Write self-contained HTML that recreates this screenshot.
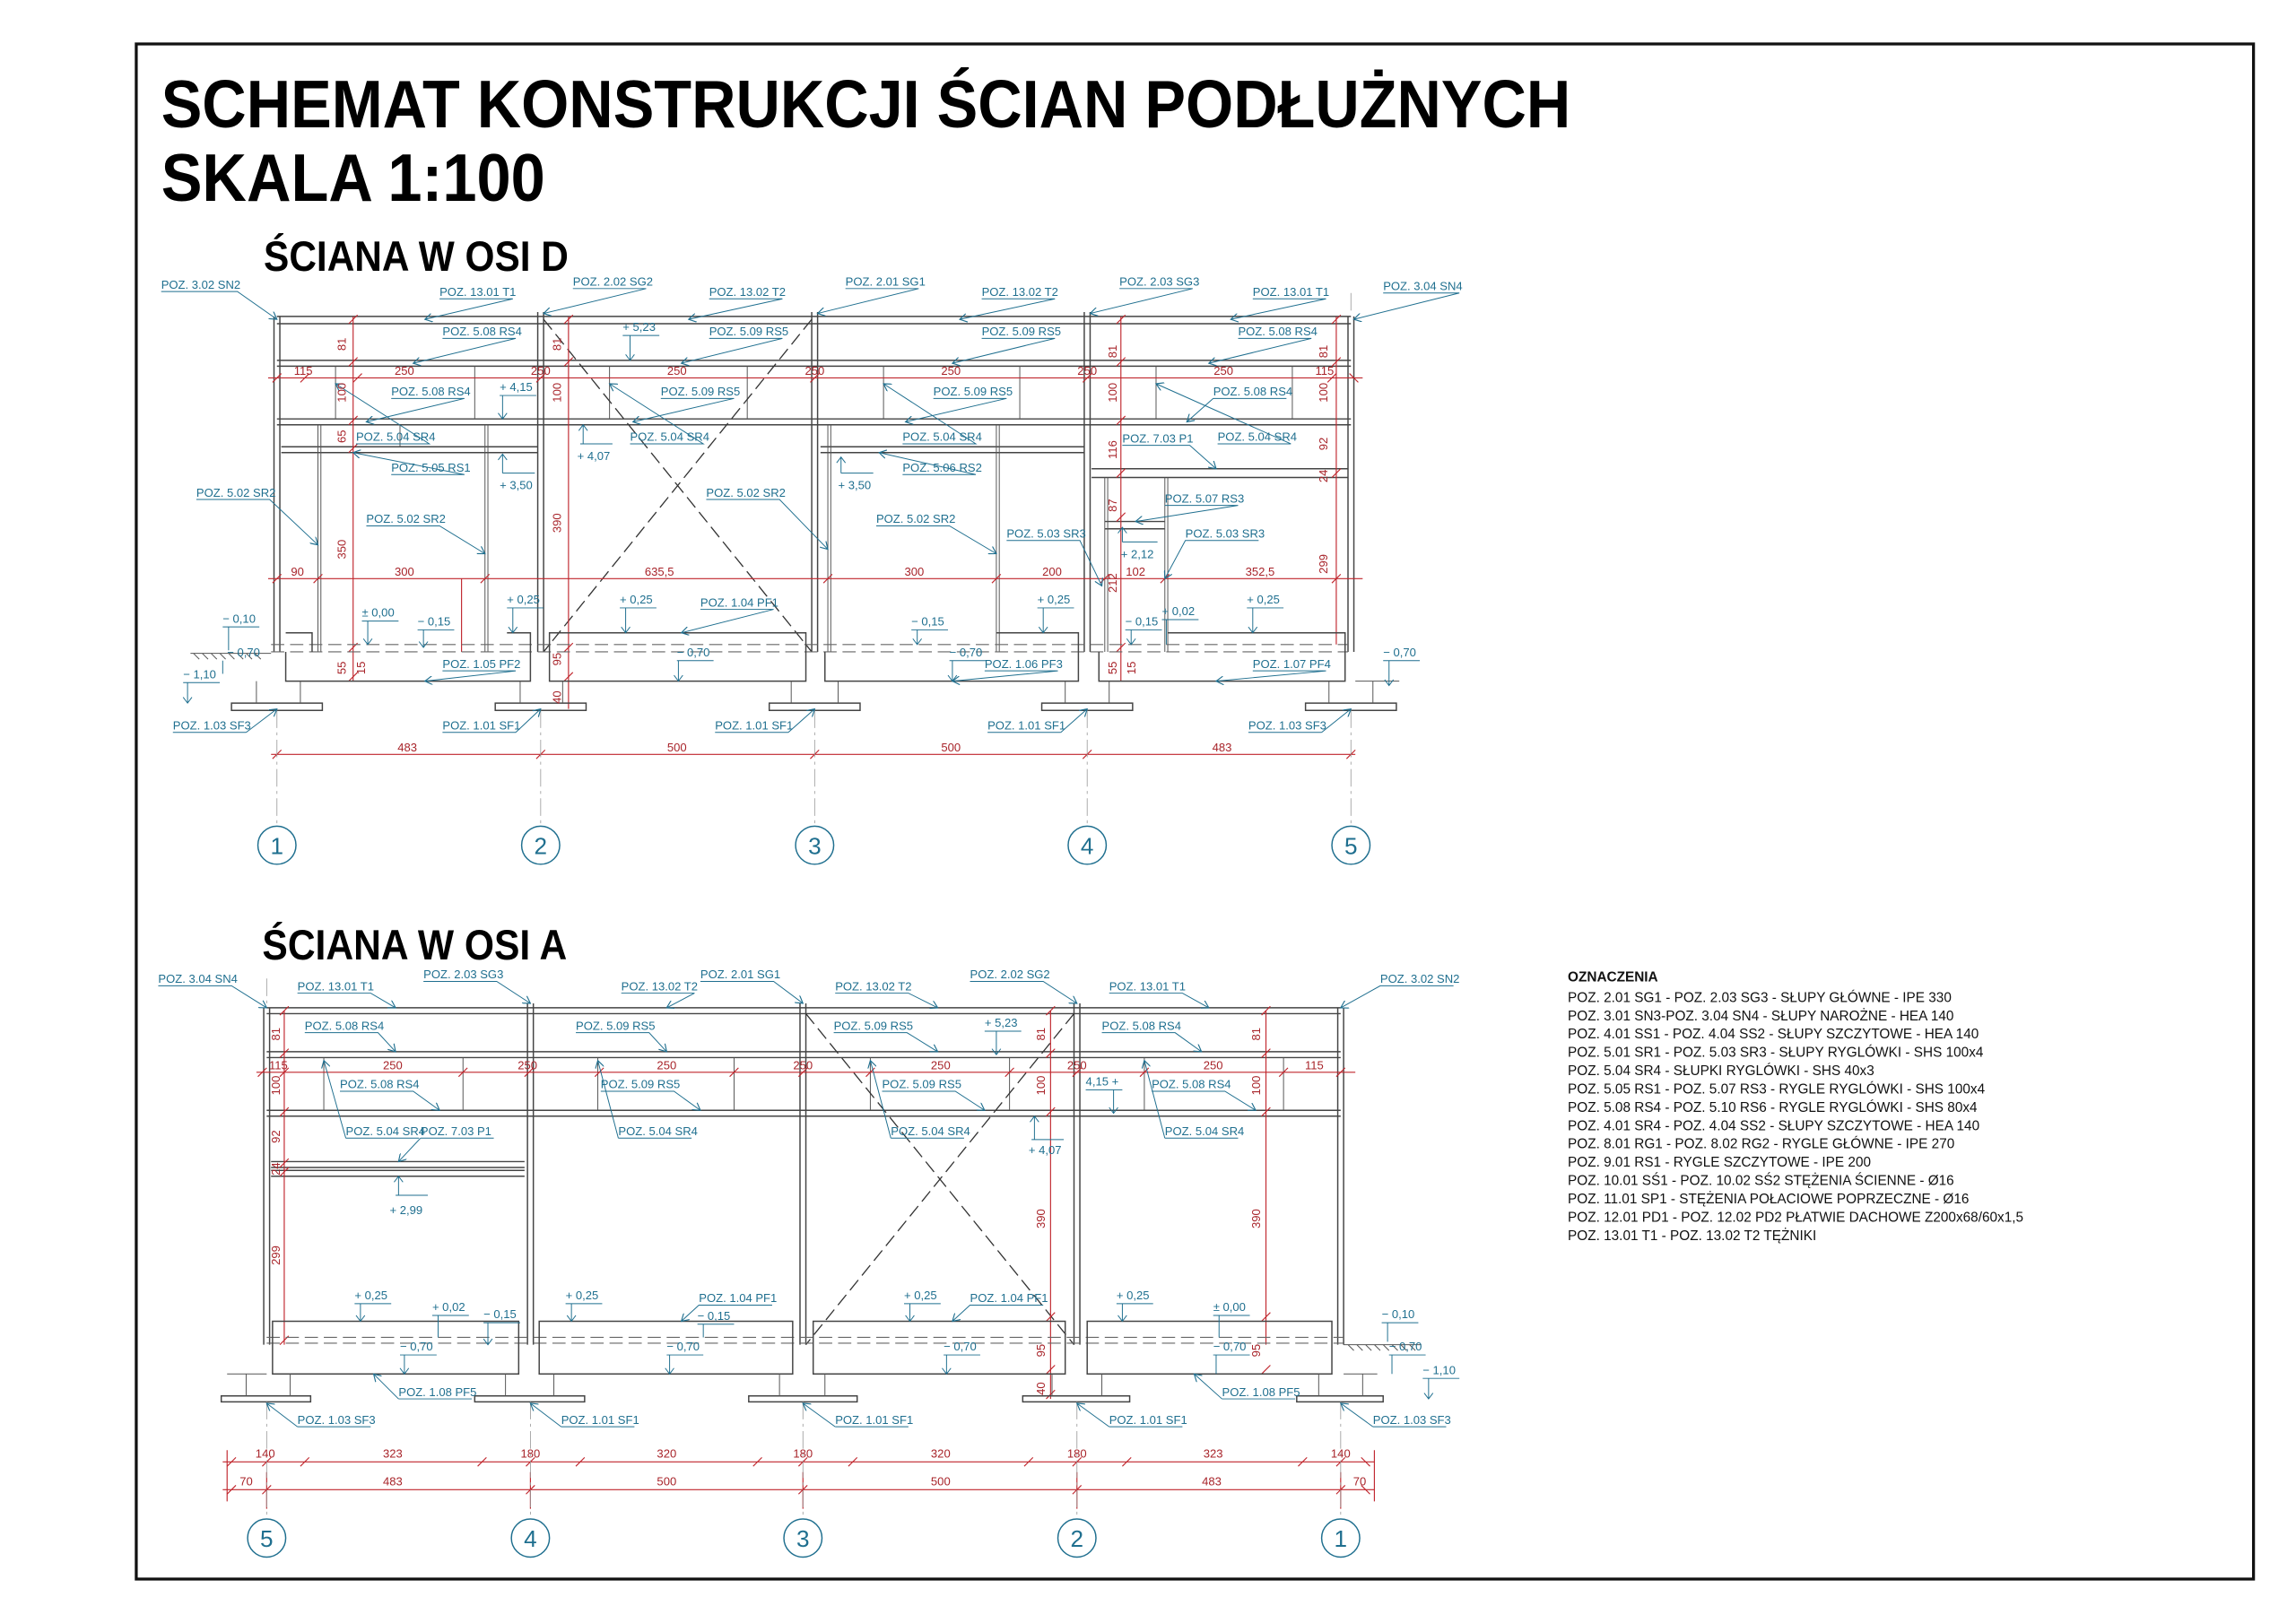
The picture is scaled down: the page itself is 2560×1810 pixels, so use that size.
<!DOCTYPE html>
<html><head><meta charset="utf-8"><style>
html,body{margin:0;padding:0;background:#fff;}
svg{display:block}
.l{font-family:"Liberation Sans",sans-serif;font-size:8px;fill:#1f6f8f}
.d{font-family:"Liberation Sans",sans-serif;font-size:8px;fill:#a8242a}
.s{stroke:#444;stroke-width:0.9;fill:none}
.s2{stroke:#555;stroke-width:0.6;fill:none}
.r{stroke:#c0262d;stroke-width:0.7;fill:none}
.b{stroke:#1f6f8f;stroke-width:0.6;fill:none}
.k{stroke:#333;stroke-width:0.8;fill:none;stroke-dasharray:9 4}
.g{stroke:#999;stroke-width:0.5;fill:none;stroke-dasharray:12 3 2 3}
.leg{font-family:"Liberation Sans",sans-serif;font-size:9.4px;fill:#111}
</style></head><body>
<svg width="2560" height="1810" viewBox="0 0 1567 1108" preserveAspectRatio="none" xmlns="http://www.w3.org/2000/svg">
<defs><marker id="a" markerWidth="6" markerHeight="6" refX="5" refY="3" orient="auto" markerUnits="userSpaceOnUse"><path d="M0,0 L5,3 L0,6" fill="none" stroke="#1f6f8f" stroke-width="0.7"/></marker></defs>
<rect x="93" y="30" width="1445" height="1048" fill="none" stroke="#111" stroke-width="2"/>
<text x="110" y="87" font-family="Liberation Sans" font-weight="bold" font-size="46" textLength="962" lengthAdjust="spacingAndGlyphs">SCHEMAT KONSTRUKCJI ŚCIAN PODŁUŻNYCH</text>
<text x="110" y="137" font-family="Liberation Sans" font-weight="bold" font-size="46" textLength="262" lengthAdjust="spacingAndGlyphs">SKALA 1:100</text>
<text x="180" y="185" font-family="Liberation Sans" font-weight="bold" font-size="29" textLength="208" lengthAdjust="spacingAndGlyphs">ŚCIANA W OSI D</text>
<text x="179" y="655" font-family="Liberation Sans" font-weight="bold" font-size="29" textLength="208" lengthAdjust="spacingAndGlyphs">ŚCIANA W OSI A</text>

<!-- ============ DRAWING D ============ -->
<g>
<path class="s" d="M189 216H922M189 221H922M189 246H922M189 250H922M189 286H922M189 290H922M192 305H367M192 309H367M560 305H740M560 309H740M745 320H920M745 326H920M754 356H795M754 361H795"/>
<path class="s" d="M187 216V445M191 216V445M920 216V445M924 216V445M367 213V445M371 213V445M554 213V445M558 213V445M740 213V445M744 213V445"/>
<path class="s2" d="M217 290V445M219 290V445M331 290V445M333 290V445M565 290V445M567 290V445M680 290V445M682 290V445M754 326V445M756 326V445M795 326V445M797 326V445M273 290V305"/>
<path class="s2" d="M229 250V286M324 250V286M416 250V286M510 250V286M603 250V286M696 250V286M789 250V286M882 250V286"/>
<path class="k" d="M371 218L554 445M554 218L371 445"/>
<path class="r" d="M183 258H930M183 395H930M185 515H925M241 216V465M388 216V484M765 216V465M912 216V440M315 395V445"/>
<path class="r" d="M186 261l6-6M205 261l6-6M241 261l6-6M366 261l6-6M553 261l6-6M739 261l6-6M906 261l6-6M927 261l-6-6M186 398l6-6M214 398l6-6M328 398l6-6M562 398l6-6M677 398l6-6M751 398l6-6M792 398l6-6M909 398l6-6M186 518l6-6M366 518l6-6M553 518l6-6M739 518l6-6M919 518l6-6M238 221l6-6M238 250l6-6M238 290l6-6M238 309l6-6M238 445l6-6M238 465l6-6M385 221l6-6M385 250l6-6M385 445l6-6M385 465l6-6M762 221l6-6M762 250l6-6M762 290l6-6M762 326l6-6M762 356l6-6M762 445l6-6M909 221l6-6M909 250l6-6M909 326l6-6"/>
<path class="k" d="M185 440H920M185 445H920" style="stroke:#666;stroke-width:0.7"/>
<path class="s" d="M195 445V465H362V445M195 432H213V445M346 432H362V445M375 432H550V465H375ZM563 445V465H736V445M680 432H736V445M750 445V465H918V445M797 432H918V445"/>
<path class="s2" d="M130 446H185M132 446l4 4M138 446l4 4M144 446l4 4M150 446l4 4M156 446l4 4M162 446l4 4M168 446l4 4M174 446l4 4"/>
<path class="s" d="M158 480H220V485H158ZM338 480H400V485H338ZM525 480H587V485H525ZM711 480H773V485H711ZM891 480H953V485H891Z"/>
<path class="s2" d="M175 465V480M205 465V480M355 465V480M384 465V480M540 465V480M572 465V480M727 465V480M757 465V480M907 465V480M937 465V480M925 465H955"/>
<path class="g" d="M189 485V563M369 485V563M556 485V563M742 485V563M922 485V563M922 200V214"/>
<g fill="none" stroke="#1f6f8f" stroke-width="0.9"><circle cx="189" cy="577" r="13"/><circle cx="369" cy="577" r="13"/><circle cx="556" cy="577" r="13"/><circle cx="742" cy="577" r="13"/><circle cx="922" cy="577" r="13"/></g>
<g font-family="Liberation Sans" font-size="16" fill="#1f6f8f" text-anchor="middle"><text x="189" y="583">1</text><text x="369" y="583">2</text><text x="556" y="583">3</text><text x="742" y="583">4</text><text x="922" y="583">5</text></g>

<g class="l">
<text x="110" y="197">POZ. 3.02 SN2</text><text x="300" y="202">POZ. 13.01 T1</text><text x="391" y="195">POZ. 2.02 SG2</text><text x="484" y="202">POZ. 13.02 T2</text><text x="577" y="195">POZ. 2.01 SG1</text><text x="670" y="202">POZ. 13.02 T2</text><text x="764" y="195">POZ. 2.03 SG3</text><text x="855" y="202">POZ. 13.01 T1</text><text x="944" y="198">POZ. 3.04 SN4</text>
<text x="302" y="229">POZ. 5.08 RS4</text><text x="484" y="229">POZ. 5.09 RS5</text><text x="670" y="229">POZ. 5.09 RS5</text><text x="845" y="229">POZ. 5.08 RS4</text>
<text x="267" y="270">POZ. 5.08 RS4</text><text x="451" y="270">POZ. 5.09 RS5</text><text x="637" y="270">POZ. 5.09 RS5</text><text x="828" y="270">POZ. 5.08 RS4</text>
<text x="243" y="301">POZ. 5.04 SR4</text><text x="430" y="301">POZ. 5.04 SR4</text><text x="616" y="301">POZ. 5.04 SR4</text><text x="831" y="301">POZ. 5.04 SR4</text><text x="766" y="302">POZ. 7.03 P1</text>
<text x="267" y="322">POZ. 5.05 RS1</text><text x="616" y="322">POZ. 5.06 RS2</text><text x="795" y="343">POZ. 5.07 RS3</text>
<text x="134" y="339">POZ. 5.02 SR2</text><text x="250" y="357">POZ. 5.02 SR2</text><text x="482" y="339">POZ. 5.02 SR2</text><text x="598" y="357">POZ. 5.02 SR2</text><text x="687" y="367">POZ. 5.03 SR3</text><text x="809" y="367">POZ. 5.03 SR3</text>
<text x="478" y="414">POZ. 1.04 PF1</text><text x="302" y="456">POZ. 1.05 PF2</text><text x="672" y="456">POZ. 1.06 PF3</text><text x="855" y="456">POZ. 1.07 PF4</text>
<text x="118" y="498">POZ. 1.03 SF3</text><text x="302" y="498">POZ. 1.01 SF1</text><text x="488" y="498">POZ. 1.01 SF1</text><text x="674" y="498">POZ. 1.01 SF1</text><text x="852" y="498">POZ. 1.03 SF3</text>
</g>
<g class="b" marker-end="url(#a)">
<path d="M110 199H162L189 218"/><path d="M300 204H350L290 218"/><path d="M391 197H441L371 214"/><path d="M484 204H534L470 218"/><path d="M577 197H627L558 214"/><path d="M670 204H720L655 218"/><path d="M764 197H814L744 214"/><path d="M855 204H905L840 218"/><path d="M944 200H996L924 218"/>
<path d="M302 231H352L282 248"/><path d="M484 231H534L465 248"/><path d="M670 231H720L650 248"/><path d="M845 231H895L825 248"/>
<path d="M267 272H317L250 288"/><path d="M451 272H501L432 288"/><path d="M637 272H687L618 288"/><path d="M878 272H828L810 288"/>
<path d="M243 303H293L229 262"/><path d="M430 303H480L416 262"/><path d="M616 303H666L603 262"/><path d="M831 303H881L789 262"/><path d="M766 304H812L830 320"/>
<path d="M267 324H317L241 309"/><path d="M616 324H666L600 309"/><path d="M795 345H845L775 356"/>
<path d="M134 341H184L217 372"/><path d="M250 359H300L331 378"/><path d="M482 341H532L565 375"/><path d="M598 359H648L680 378"/><path d="M687 369H737L752 400"/><path d="M859 369H809L795 395"/>
<path d="M478 416H528L465 432"/><path d="M302 458H352L290 465"/><path d="M672 458H722L650 465"/><path d="M855 458H905L830 465"/>
<path d="M168 500H118M168 500L189 484"/><path d="M352 500L369 484"/><path d="M538 500L556 484"/><path d="M724 500L742 484"/><path d="M902 500L922 484"/>
</g>
<g class="b"><path d="M302 500H352M488 500H538M674 500H724M852 500H902"/></g>
<g class="l">
<text x="425" y="226">+ 5,23</text><text x="341" y="267">+ 4,15</text><text x="394" y="314">+ 4,07</text><text x="341" y="334">+ 3,50</text><text x="572" y="334">+ 3,50</text><text x="765" y="381">+ 2,12</text>
<text x="247" y="421">± 0,00</text><text x="285" y="427">− 0,15</text><text x="346" y="412">+ 0,25</text><text x="423" y="412">+ 0,25</text><text x="708" y="412">+ 0,25</text><text x="851" y="412">+ 0,25</text><text x="622" y="427">− 0,15</text><text x="768" y="427">− 0,15</text><text x="793" y="420">+ 0,02</text><text x="152" y="425">− 0,10</text>
<text x="462" y="448">− 0,70</text><text x="648" y="448">− 0,70</text><text x="944" y="448">− 0,70</text><text x="155" y="448">− 0,70</text><text x="125" y="463">− 1,10</text>
</g>
<g class="b">
<path d="M425 229H450M430 229V246M427 242l3 4 3-4"/><path d="M341 270H366M343 270V286M340 282l3 4 3-4"/><path d="M396 303H418M398 303V290M395 294l3-4 3 4"/><path d="M343 323H365M343 323V310M340 314l3-4 3 4"/><path d="M574 323H596M574 323V312M571 316l3-4 3 4"/><path d="M766 370H790M766 370V360M763 364l3-4 3 4"/>
<path d="M247 424H272M251 424V440M248 436l3 4 3-4"/><path d="M285 430H310M289 430V442M286 438l3 4 3-4"/><path d="M346 415H371M350 415V432M347 428l3 4 3-4"/><path d="M423 415H448M427 415V432M424 428l3 4 3-4"/><path d="M708 415H733M712 415V432M709 428l3 4 3-4"/><path d="M851 415H876M855 415V432M852 428l3 4 3-4"/><path d="M622 430H647M626 430V440M623 436l3 4 3-4"/><path d="M768 430H793M772 430V440M769 436l3 4 3-4"/><path d="M793 423H818M796 423V440"/><path d="M152 428H177M156 428V444"/>
<path d="M462 451H487M463 451V465M460 461l3 4 3-4"/><path d="M648 451H673M650 451V465M647 461l3 4 3-4"/><path d="M944 451H969M948 451V468M945 464l3 4 3-4"/><path d="M125 466H150M128 466V480M125 476l3 4 3-4"/><path d="M152 451V460"/>
</g>
<g class="d" text-anchor="middle">
<text x="207" y="256">115</text><text x="276" y="256">250</text><text x="369" y="256">250</text><text x="462" y="256">250</text><text x="556" y="256">250</text><text x="649" y="256">250</text><text x="742" y="256">250</text><text x="835" y="256">250</text><text x="904" y="256">115</text>
<text x="203" y="393">90</text><text x="276" y="393">300</text><text x="450" y="393">635,5</text><text x="624" y="393">300</text><text x="718" y="393">200</text><text x="775" y="393">102</text><text x="860" y="393">352,5</text>
<text x="278" y="513">483</text><text x="462" y="513">500</text><text x="649" y="513">500</text><text x="834" y="513">483</text>
</g>
<g class="d" text-anchor="middle">
<text transform="translate(236,235) rotate(-90)">81</text><text transform="translate(236,268) rotate(-90)">100</text><text transform="translate(236,298) rotate(-90)">65</text><text transform="translate(236,375) rotate(-90)">350</text><text transform="translate(236,456) rotate(-90)">55</text><text transform="translate(249,456) rotate(-90)">15</text>
<text transform="translate(383,235) rotate(-90)">81</text><text transform="translate(383,268) rotate(-90)">100</text><text transform="translate(383,357) rotate(-90)">390</text><text transform="translate(383,450) rotate(-90)">95</text><text transform="translate(383,476) rotate(-90)">40</text>
<text transform="translate(762,240) rotate(-90)">81</text><text transform="translate(762,268) rotate(-90)">100</text><text transform="translate(762,307) rotate(-90)">116</text><text transform="translate(762,345) rotate(-90)">87</text><text transform="translate(762,398) rotate(-90)">212</text><text transform="translate(762,456) rotate(-90)">55</text><text transform="translate(775,456) rotate(-90)">15</text>
<text transform="translate(906,240) rotate(-90)">81</text><text transform="translate(906,268) rotate(-90)">100</text><text transform="translate(906,303) rotate(-90)">92</text><text transform="translate(906,325) rotate(-90)">24</text><text transform="translate(906,385) rotate(-90)">299</text>
</g>
</g>

<!-- ============ DRAWING A ============ -->
<g>
<path class="s" d="M182 688H915M182 692H915M182 718H915M182 722H915M182 758H915M182 762H915M185 793H358M185 797H358M185 799H358M185 803H358"/>
<path class="s" d="M180 688V918M184 688V918M913 688V918M917 688V918M360 685V918M364 685V918M546 685V918M550 685V918M733 685V918M737 685V918"/>
<path class="s2" d="M221 722V758M316 722V758M408 722V758M501 722V758M594 722V758M689 722V758M781 722V758M876 722V758"/>
<path class="k" d="M550 692L733 918M733 692L550 918"/>
<path class="r" d="M175 732H925M152 998H938M152 1017H938M194 690V918M717 690V955M864 690V918"/>
<path class="r" d="M176 735l6-6M191 735l6-6M313 735l6-6M358 735l6-6M406 735l6-6M498 735l6-6M545 735l6-6M591 735l6-6M686 735l6-6M732 735l6-6M778 735l6-6M873 735l6-6M912 735l6-6
M155 1001l6-6M179 1001l6-6M205 1001l6-6M326 1001l6-6M359 1001l6-6M393 1001l6-6M514 1001l6-6M545 1001l6-6M579 1001l6-6M699 1001l6-6M732 1001l6-6M766 1001l6-6M886 1001l6-6M912 1001l6-6M935 1001l-6-6
M155 1020l6-6M179 1020l6-6M359 1020l6-6M545 1020l6-6M732 1020l6-6M912 1020l6-6M935 1020l-6-6
M191 693l6-6M191 722l6-6M191 762l6-6M191 797l6-6M191 803l6-6M191 918l6-6M714 693l6-6M714 722l6-6M714 762l6-6M714 902l6-6M714 938l6-6M714 955l6-6M861 693l6-6M861 722l6-6M861 762l6-6M861 902l6-6M861 938l6-6"/>
<path class="r" d="M155 990V1025M938 990V1025M182 1005V1030M362 1005V1030M548 1005V1030M735 1005V1030M915 1005V1030"/>
<path class="k" d="M182 913H917M182 917H917" style="stroke:#666;stroke-width:0.7"/>
<path class="s" d="M186 902H354V938H186ZM368 902H541V938H368ZM555 902H727V938H555ZM742 902H909V938H742Z"/>
<path class="s" d="M151 953H212V957H151ZM324 953H399V957H324ZM511 953H585V957H511ZM698 953H771V957H698ZM885 953H944V957H885Z"/>
<path class="s2" d="M155 938H182M168 938V953M198 938V953M345 938V953M378 938V953M532 938V953M563 938V953M718 938V953M752 938V953M900 938V953M930 938V953M917 938H940"/>
<path class="s2" d="M917 918H970M920 918l4 4M926 918l4 4M932 918l4 4M938 918l4 4M944 918l4 4M950 918l4 4M956 918l4 4M962 918l4 4"/>
<path class="g" d="M182 957V1037M362 957V1037M548 957V1037M735 957V1037M915 957V1037M182 668V686"/>
<g fill="none" stroke="#1f6f8f" stroke-width="0.9"><circle cx="182" cy="1050" r="13"/><circle cx="362" cy="1050" r="13"/><circle cx="548" cy="1050" r="13"/><circle cx="735" cy="1050" r="13"/><circle cx="915" cy="1050" r="13"/></g>
<g font-family="Liberation Sans" font-size="16" fill="#1f6f8f" text-anchor="middle"><text x="182" y="1056">5</text><text x="362" y="1056">4</text><text x="548" y="1056">3</text><text x="735" y="1056">2</text><text x="915" y="1056">1</text></g>

<g class="l">
<text x="108" y="671">POZ. 3.04 SN4</text><text x="203" y="676">POZ. 13.01 T1</text><text x="289" y="668">POZ. 2.03 SG3</text><text x="424" y="676">POZ. 13.02 T2</text><text x="478" y="668">POZ. 2.01 SG1</text><text x="570" y="676">POZ. 13.02 T2</text><text x="662" y="668">POZ. 2.02 SG2</text><text x="757" y="676">POZ. 13.01 T1</text><text x="942" y="671">POZ. 3.02 SN2</text>
<text x="208" y="703">POZ. 5.08 RS4</text><text x="393" y="703">POZ. 5.09 RS5</text><text x="569" y="703">POZ. 5.09 RS5</text><text x="752" y="703">POZ. 5.08 RS4</text>
<text x="232" y="743">POZ. 5.08 RS4</text><text x="410" y="743">POZ. 5.09 RS5</text><text x="602" y="743">POZ. 5.09 RS5</text><text x="786" y="743">POZ. 5.08 RS4</text>
<text x="236" y="775">POZ. 5.04 SR4</text><text x="287" y="775">POZ. 7.03 P1</text><text x="422" y="775">POZ. 5.04 SR4</text><text x="608" y="775">POZ. 5.04 SR4</text><text x="795" y="775">POZ. 5.04 SR4</text>
<text x="477" y="889">POZ. 1.04 PF1</text><text x="662" y="889">POZ. 1.04 PF1</text><text x="272" y="953">POZ. 1.08 PF5</text><text x="834" y="953">POZ. 1.08 PF5</text>
<text x="203" y="972">POZ. 1.03 SF3</text><text x="383" y="972">POZ. 1.01 SF1</text><text x="570" y="972">POZ. 1.01 SF1</text><text x="757" y="972">POZ. 1.01 SF1</text><text x="937" y="972">POZ. 1.03 SF3</text>
</g>
<g class="b" marker-end="url(#a)">
<path d="M108 673H158L182 688"/><path d="M203 678H253L270 688"/><path d="M289 670H339L362 685"/><path d="M424 678H474L455 688"/><path d="M478 670H528L548 685"/><path d="M570 678H620L640 688"/><path d="M662 670H712L735 685"/><path d="M757 678H807L825 688"/><path d="M992 673H942L915 688"/>
<path d="M208 705H258L270 718"/><path d="M393 705H443L455 718"/><path d="M569 705H619L640 718"/><path d="M752 705H802L820 718"/>
<path d="M232 745H282L300 758"/><path d="M410 745H460L478 758"/><path d="M602 745H652L672 758"/><path d="M786 745H836L857 758"/>
<path d="M236 777L221 724"/><path d="M287 777L272 793"/><path d="M422 777L408 724"/><path d="M608 777L594 724"/><path d="M795 777L781 724"/>
<path d="M527 891H477L465 902"/><path d="M712 891H662L650 902"/><path d="M272 955L255 938"/><path d="M834 955L815 938"/>
<path d="M203 974L182 958"/><path d="M383 974L362 958"/><path d="M570 974L548 958"/><path d="M757 974L735 958"/><path d="M937 974L915 958"/>
</g>
<g class="b"><path d="M236 777H286M287 777H337M422 777H472M608 777H658M795 777H845M272 955H322M834 955H884M203 974H253M383 974H433M570 974H620M757 974H807M937 974H987"/></g>
<g class="l">
<text x="672" y="701">+ 5,23</text><text x="741" y="741">4,15 +</text><text x="702" y="788">+ 4,07</text><text x="266" y="829">+ 2,99</text>
<text x="242" y="887">+ 0,25</text><text x="386" y="887">+ 0,25</text><text x="617" y="887">+ 0,25</text><text x="762" y="887">+ 0,25</text><text x="295" y="895">+ 0,02</text><text x="330" y="900">− 0,15</text><text x="476" y="901">− 0,15</text><text x="828" y="895">± 0,00</text><text x="943" y="900">− 0,10</text>
<text x="273" y="922">− 0,70</text><text x="455" y="922">− 0,70</text><text x="644" y="922">− 0,70</text><text x="828" y="922">− 0,70</text><text x="948" y="922">− 0,70</text><text x="971" y="938">− 1,10</text>
</g>
<g class="b">
<path d="M672 704H697M680 704V720M677 716l3 4 3-4"/><path d="M741 744H766M760 744V760M757 756l3 4 3-4"/><path d="M704 778H726M706 778V762M703 766l3-4 3 4"/><path d="M270 816H292M272 816V803M269 807l3-4 3 4"/>
<path d="M242 890H267M246 890V902M243 898l3 4 3-4"/><path d="M386 890H411M390 890V902M387 898l3 4 3-4"/><path d="M617 890H642M621 890V902M618 898l3 4 3-4"/><path d="M762 890H787M766 890V902M763 898l3 4 3-4"/><path d="M295 898H320M299 898V913"/><path d="M330 903H355M333 903V918M330 914l3 4 3-4"/><path d="M476 904H501M480 904V913"/><path d="M828 898H853M832 898V913"/><path d="M943 903H968M947 903V916"/>
<path d="M273 925H298M276 925V938M273 934l3 4 3-4"/><path d="M455 925H480M457 925V938M454 934l3 4 3-4"/><path d="M644 925H669M646 925V938M643 934l3 4 3-4"/><path d="M828 925H853M830 925V938"/><path d="M948 925H973M950 925V938"/><path d="M971 941H996M975 941V955M972 951l3 4 3-4"/>
</g>
<g class="d" text-anchor="middle">
<text x="190" y="730">115</text><text x="268" y="730">250</text><text x="360" y="730">250</text><text x="455" y="730">250</text><text x="548" y="730">250</text><text x="642" y="730">250</text><text x="735" y="730">250</text><text x="828" y="730">250</text><text x="897" y="730">115</text>
<text x="181" y="995">140</text><text x="268" y="995">323</text><text x="362" y="995">180</text><text x="455" y="995">320</text><text x="548" y="995">180</text><text x="642" y="995">320</text><text x="735" y="995">180</text><text x="828" y="995">323</text><text x="915" y="995">140</text>
<text x="168" y="1014">70</text><text x="268" y="1014">483</text><text x="455" y="1014">500</text><text x="642" y="1014">500</text><text x="827" y="1014">483</text><text x="928" y="1014">70</text>
<text transform="translate(191,706) rotate(-90)">81</text><text transform="translate(191,741) rotate(-90)">100</text><text transform="translate(191,776) rotate(-90)">92</text><text transform="translate(191,798) rotate(-90)">24</text><text transform="translate(191,857) rotate(-90)">299</text>
<text transform="translate(713,706) rotate(-90)">81</text><text transform="translate(713,741) rotate(-90)">100</text><text transform="translate(713,832) rotate(-90)">390</text><text transform="translate(713,922) rotate(-90)">95</text><text transform="translate(713,948) rotate(-90)">40</text>
<text transform="translate(860,706) rotate(-90)">81</text><text transform="translate(860,741) rotate(-90)">100</text><text transform="translate(860,832) rotate(-90)">390</text><text transform="translate(860,922) rotate(-90)">95</text>
</g>
</g>

<g class="leg">
<text x="1070" y="670" font-weight="bold">OZNACZENIA</text>
<text x="1070" y="684">POZ. 2.01 SG1 - POZ. 2.03 SG3 - SŁUPY GŁÓWNE - IPE 330</text>
<text x="1070" y="696.5">POZ. 3.01 SN3-POZ. 3.04 SN4 - SŁUPY NAROŻNE - HEA 140</text>
<text x="1070" y="709">POZ. 4.01 SS1 - POZ. 4.04 SS2 - SŁUPY SZCZYTOWE - HEA 140</text>
<text x="1070" y="721.5">POZ. 5.01 SR1 - POZ. 5.03 SR3 - SŁUPY RYGLÓWKI - SHS 100x4</text>
<text x="1070" y="734">POZ. 5.04 SR4 - SŁUPKI RYGLÓWKI - SHS 40x3</text>
<text x="1070" y="746.5">POZ. 5.05 RS1 - POZ. 5.07 RS3 - RYGLE RYGLÓWKI - SHS 100x4</text>
<text x="1070" y="759">POZ. 5.08 RS4 - POZ. 5.10 RS6 - RYGLE RYGLÓWKI - SHS 80x4</text>
<text x="1070" y="771.5">POZ. 4.01 SR4 - POZ. 4.04 SS2 - SŁUPY SZCZYTOWE - HEA 140</text>
<text x="1070" y="784">POZ. 8.01 RG1 - POZ. 8.02 RG2 - RYGLE GŁÓWNE - IPE 270</text>
<text x="1070" y="796.5">POZ. 9.01 RS1 - RYGLE SZCZYTOWE - IPE 200</text>
<text x="1070" y="809">POZ. 10.01 SŚ1 - POZ. 10.02 SŚ2 STĘŻENIA ŚCIENNE - Ø16</text>
<text x="1070" y="821.5">POZ. 11.01 SP1 - STĘŻENIA POŁACIOWE POPRZECZNE - Ø16</text>
<text x="1070" y="834">POZ. 12.01 PD1 - POZ. 12.02 PD2 PŁATWIE DACHOWE Z200x68/60x1,5</text>
<text x="1070" y="846.5">POZ. 13.01 T1 - POZ. 13.02 T2 TĘŻNIKI</text>
</g>
</svg>
</body></html>
